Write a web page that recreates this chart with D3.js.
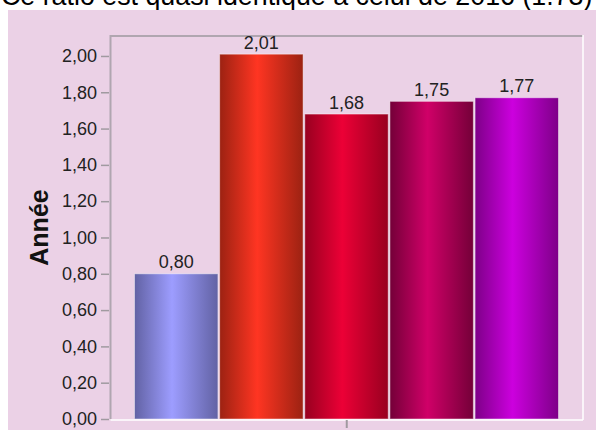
<!DOCTYPE html>
<html>
<head>
<meta charset="utf-8">
<script src="https://cdnjs.cloudflare.com/ajax/libs/d3/7.8.5/d3.min.js"></script>
<style>
  html, body { margin: 0; padding: 0; background: #ffffff; }
  svg { display: block; }
</style>
</head>
<body>
<svg id="chart" width="596" height="430"></svg>
<script>
// Ratio par série, exprimé en années
const categories = ["S1", "S2", "S3", "S4", "S5"];
const values = [0.80, 2.01, 1.68, 1.75, 1.77];
const yTicks = [0, 0.2, 0.4, 0.6, 0.8, 1.0, 1.2, 1.4, 1.6, 1.8, 2.0];
const barEdgeColors = ["#6262a4", "#9c2212", "#980020", "#740038", "#7e0088"];
const barMidColors = ["#9d9dff", "#ff3522", "#ec0036", "#d00068", "#cc00de"];
const titleText = "Ce ratio est quasi identique à celui de 2016 (1.73)";
const axisTitle = "Année";

const FONT = "'Liberation Sans', Arial, Helvetica, sans-serif";
const svg = d3.select("#chart");

// French number format: comma as the decimal separator
const fr = d3.formatLocale({ decimal: ",", thousands: " ", grouping: [3], currency: ["", " €"] });
const fmt = fr.format(".2f");

// Heading text above the chart panel
svg.append("text")
  .attr("x", 1)
  .attr("y", 5)
  .attr("font-family", FONT)
  .attr("font-size", 26.8)
  .attr("fill", "#000")
  .text(titleText);

// Chart panel background
svg.append("rect")
  .attr("x", 8).attr("y", 10)
  .attr("width", 596 - 8).attr("height", 420)
  .attr("fill", "#ebd1e6");

const plot = { left: 110.5, right: 583, top: 36, bottom: 419 };

const y = d3.scaleLinear().domain([0, 2.11]).range([plot.bottom, plot.top]);
const x = d3.scaleBand().domain(categories).range([134.5, 558.5]).paddingInner(0.02);

// Horizontal gradients giving each bar its cylindrical shading
const defs = svg.append("defs");
categories.forEach((c, i) => {
  const g = defs.append("linearGradient")
    .attr("id", "grad" + i)
    .attr("x1", "0").attr("x2", "1").attr("y1", "0").attr("y2", "0");
  g.append("stop").attr("offset", "0%").attr("stop-color", barEdgeColors[i]);
  g.append("stop").attr("offset", "45%").attr("stop-color", barMidColors[i]);
  g.append("stop").attr("offset", "100%").attr("stop-color", barEdgeColors[i]);
});

// Plot frame: grey on top/left, white on right/bottom
svg.append("line")
  .attr("x1", plot.left).attr("x2", plot.right)
  .attr("y1", plot.top).attr("y2", plot.top)
  .attr("stroke", "#b0a6b0").attr("stroke-width", 2);
svg.append("line")
  .attr("x1", plot.left).attr("x2", plot.left)
  .attr("y1", plot.top - 1).attr("y2", plot.bottom)
  .attr("stroke", "#b0a6b0").attr("stroke-width", 2);
svg.append("line")
  .attr("x1", plot.right).attr("x2", plot.right)
  .attr("y1", plot.top - 1).attr("y2", plot.bottom + 1)
  .attr("stroke", "#ffffff").attr("stroke-width", 1.5);
svg.append("line")
  .attr("x1", plot.left).attr("x2", plot.right)
  .attr("y1", plot.bottom + 1).attr("y2", plot.bottom + 1)
  .attr("stroke", "#ffffff").attr("stroke-width", 1.5);

// Y axis ticks and labels
const yAxis = d3.axisLeft(y)
  .tickValues(yTicks)
  .tickFormat(fmt)
  .tickSize(8)
  .tickPadding(4);
const yg = svg.append("g")
  .attr("transform", `translate(${plot.left - 1.5},0)`)
  .call(yAxis);
yg.select(".domain").remove();
yg.selectAll(".tick line").attr("stroke", "#a09aa0").attr("stroke-width", 1.5);
yg.selectAll(".tick text")
  .attr("font-family", FONT)
  .attr("font-size", 18)
  .attr("fill", "#222");

// Single centred tick on the category axis
svg.append("line")
  .attr("x1", (plot.left + plot.right) / 2).attr("x2", (plot.left + plot.right) / 2)
  .attr("y1", plot.bottom + 1).attr("y2", plot.bottom + 9)
  .attr("stroke", "#a09aa0").attr("stroke-width", 2);

// Bars
svg.append("g").selectAll("rect")
  .data(values)
  .join("rect")
  .attr("x", (d, i) => x(categories[i]))
  .attr("y", d => y(d))
  .attr("width", x.bandwidth())
  .attr("height", d => y(0) - y(d))
  .attr("fill", (d, i) => `url(#grad${i})`)
  .attr("stroke", "rgba(255,255,255,0.45)")
  .attr("stroke-width", 1);

// Value labels above bars
svg.append("g").selectAll("text")
  .data(values)
  .join("text")
  .attr("x", (d, i) => x(categories[i]) + x.bandwidth() / 2)
  .attr("y", d => y(d) - 5.5)
  .attr("text-anchor", "middle")
  .attr("font-family", FONT)
  .attr("font-size", 18)
  .attr("fill", "#222")
  .text(d => fmt(d));

// Rotated axis title
svg.append("text")
  .attr("transform", `translate(48, ${(plot.top + plot.bottom) / 2}) rotate(-90)`)
  .attr("text-anchor", "middle")
  .attr("font-family", FONT)
  .attr("font-size", 25)
  .attr("font-weight", "bold")
  .attr("fill", "#111")
  .text(axisTitle);
</script>
</body>
</html>
